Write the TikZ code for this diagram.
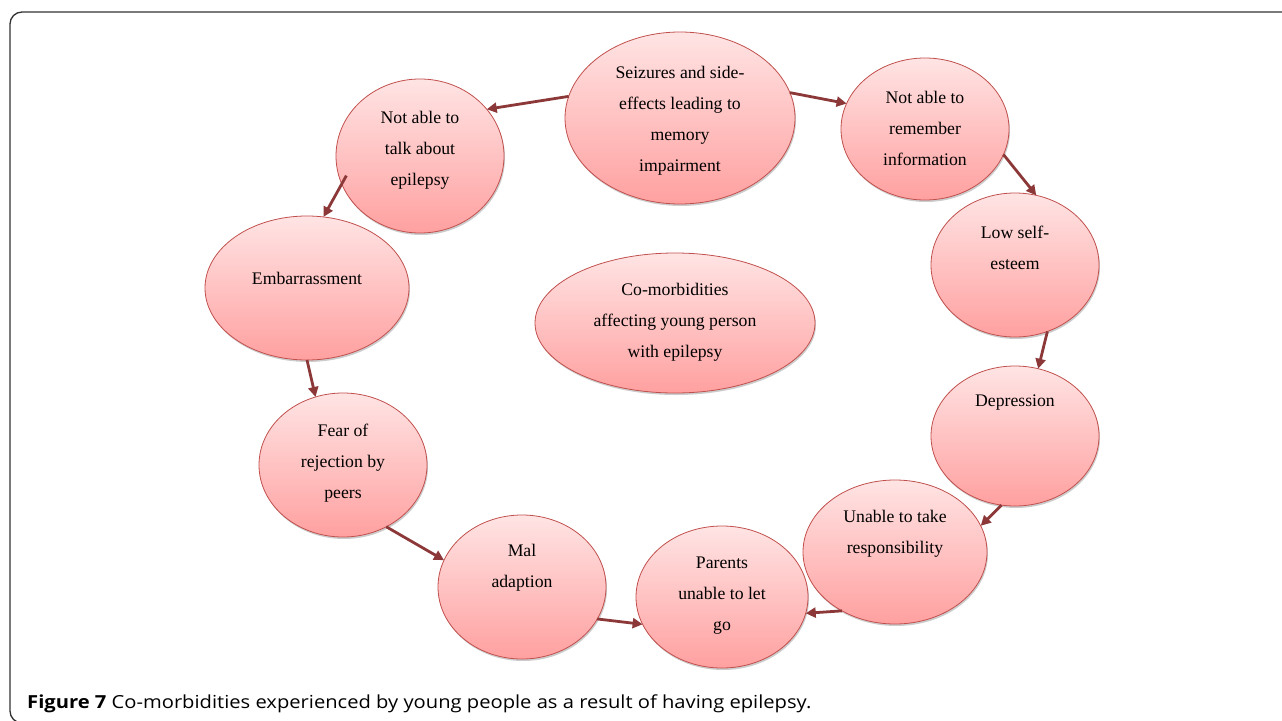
\documentclass[tikz,border=0pt]{standalone}
\usepackage{fontspec}
\setmainfont{Liberation Serif}
\newfontfamily\capfont{Open Sans}
\usetikzlibrary{shapes.geometric,arrows.meta,shadows}
\definecolor{arrowred}{RGB}{140,56,56}
\definecolor{ellborder}{RGB}{192,80,77}
\definecolor{elltop}{RGB}{255,228,228}
\definecolor{ellbot}{RGB}{255,160,160}
\definecolor{framegray}{RGB}{50,50,50}
\tikzset{
  bubble/.style={ellipse, draw=ellborder, line width=0.8pt, top color=elltop, bottom color=ellbot,
    inner sep=0pt, outer sep=0pt,
    drop shadow={shadow xshift=1pt, shadow yshift=-2pt, opacity=0.2, fill=black}},
  label/.style={align=center, font=\fontsize{17.7}{31}\selectfont, inner sep=0pt},
  arr/.style={-{Triangle[length=10pt,width=10pt]}, draw=arrowred, line width=2.8pt}
}
\begin{document}
\begin{tikzpicture}[x=1pt,y=-1pt]
\useasboundingbox (0,0) rectangle (1282,720);
\draw[framegray, line width=1.3pt, rounded corners=12pt] (10,12) rectangle (1300,723);

% ellipses
\node[bubble, minimum width=230pt, minimum height=172pt] (seiz) at (680,118) {};
\node[bubble, minimum width=168pt, minimum height=142pt] (rem) at (925,129) {};
\node[bubble, minimum width=168pt, minimum height=144pt] (low) at (1015,265) {};
\node[bubble, minimum width=168pt, minimum height=140pt] (dep) at (1015,436) {};
\node[bubble, minimum width=184pt, minimum height=144pt] (unab) at (895,552) {};
\node[bubble, minimum width=172pt, minimum height=142pt] (par) at (722,597) {};
\node[bubble, minimum width=168pt, minimum height=144pt] (mal) at (522,587) {};
\node[bubble, minimum width=168pt, minimum height=144pt] (fear) at (343,465) {};
\node[bubble, minimum width=204pt, minimum height=144pt] (emb) at (307,288) {};
\node[bubble, minimum width=168pt, minimum height=154pt] (talk) at (420,156) {};
\node[bubble, minimum width=280pt, minimum height=140pt] (core) at (675,323) {};

% texts
\node[label] (tseiz) at (680,121) {Seizures and side-\\effects leading to\\memory\\impairment};
\node[label] (trem) at (925,128) {Not able to\\remember\\information};
\node[label] (tlow) at (1015,248) {Low self-\\esteem};
\node[label] (tdep) at (1015,403) {Depression};
\node[label] (tunab) at (895,534) {Unable to take\\responsibility};
\node[label] (tpar) at (722,596) {Parents\\unable to let\\go};
\node[label] (tmal) at (522,568) {Mal\\adaption};
\node[label] (tfear) at (343,463) {Fear of\\rejection by\\peers};
\node[label] (temb) at (307,278) {Embarrassment};
\node[label] (ttalk) at (420,150) {Not able to\\talk about\\epilepsy};
\node[label] (tcore) at (675,322) {Co-morbidities\\affecting young person\\with epilepsy};

% arrows
\draw[arr] (seiz.169.6) -- (talk.35);
\draw[arr] (seiz.13.6) -- (rem.162);
\draw[arr] (rem.-18.9) -- (low.73.4);
\draw[arr] (low.-64.7) -- (dep.71.8);
\draw[arr] (dep.259.4) -- (unab.17.7);
\draw[arr] (unab.228) -- (par.-11);
\draw[arr] (mal.-23.5) -- (par.199.5);
\draw[arr] (fear.-55) -- (mal.161.8);
\draw[arr] (emb.270) -- (fear.112.5);
\draw[arr] ([shift={(7pt,2pt)}]talk.195) -- (emb.77.5);

% caption
\node[anchor=base west, inner sep=0pt, font=\capfont\fontsize{18}{21}\selectfont] (cap) at (27,708)
  {\scalebox{1.12}[1]{\textbf{Figure 7} Co-morbidities experienced by young people as a result of having epilepsy.}};
\end{tikzpicture}
\end{document}
